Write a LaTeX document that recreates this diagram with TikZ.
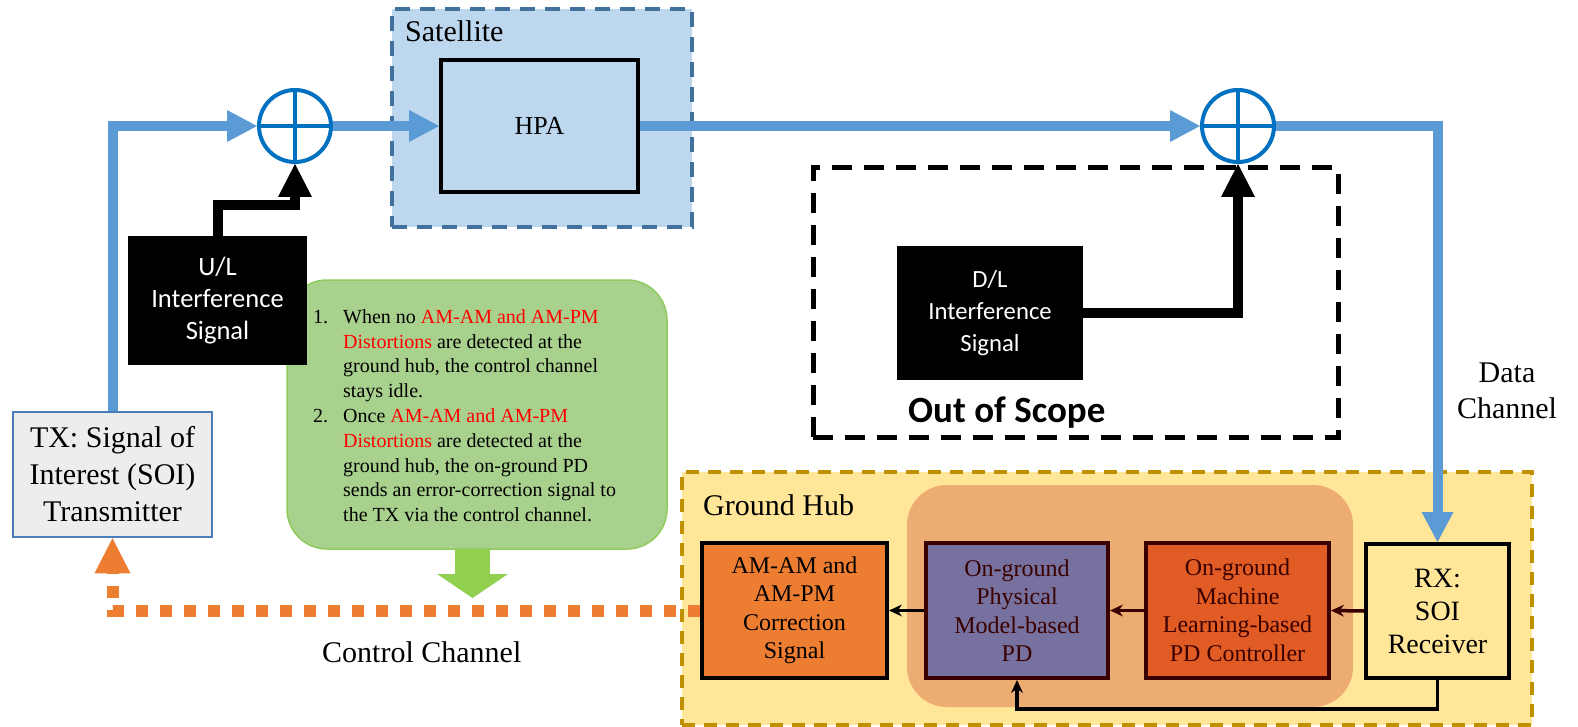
\documentclass[tikz,border=0pt]{standalone}
\usepackage{fontspec}
\setmainfont{Liberation Serif}
\newfontfamily\calib{Carlito}
\usetikzlibrary{arrows.meta,calc}
\newcommand\fsz[2]{\fontsize{#1}{#2}\selectfont}
\definecolor{bluel}{HTML}{5B9BD5}
\definecolor{sumblue}{HTML}{0070C0}
\definecolor{satfill}{HTML}{BDD7EE}
\definecolor{satdraw}{HTML}{41719C}
\definecolor{txfill}{HTML}{EDEDED}
\definecolor{txdraw}{HTML}{4A7EBB}
\definecolor{callfill}{HTML}{A9D18E}
\definecolor{calldraw}{HTML}{8FCB5C}
\definecolor{garrow}{HTML}{92D050}
\definecolor{hubfill}{HTML}{FFE699}
\definecolor{hubdraw}{HTML}{BF9000}
\definecolor{regfill}{HTML}{EDAC72}
\definecolor{amfill}{HTML}{ED7D31}
\definecolor{pdfill}{HTML}{76719F}
\definecolor{mlfill}{HTML}{E15C24}
\definecolor{dbrown}{HTML}{3A0000}
\definecolor{ctrlorange}{HTML}{ED7D31}
\definecolor{redtxt}{HTML}{FF0000}
\begin{document}
\begin{tikzpicture}[x=1pt,y=-1pt,
  blueflow/.style={draw=bluel, line width=10pt, -{Triangle[length=30pt,width=32pt,line width=0pt]}},
  sumnode/.style={circle, draw=sumblue, line width=4pt, minimum size=72pt, inner sep=0pt},
  blackbox/.style={fill=black, text=white, align=center, inner sep=0pt},
  blackflow/.style={draw=black, line width=10pt, -{Triangle[length=33pt,width=34pt,line width=0pt]}},
  hubbox/.style={rectangle, line width=4pt, minimum height=135pt, align=center, inner sep=0pt, font=\fsz{24}{28.5}},
  smallflow/.style={line width=3.5pt, -{Stealth[length=13pt,width=12pt,line width=0pt]}},
  lbl/.style={anchor=base west, inner sep=0pt, font=\fsz{30}{36}}
]
\useasboundingbox (0,0) rectangle (1578,727);

% Satellite
\node[fill=satfill, draw=satdraw, line width=4pt, dash pattern=on 15pt off 10pt,
      minimum width=300pt, minimum height=218pt] (sat) at (542,118) {};
\node[lbl] (satlbl) at (405,42) {Satellite};
\node[draw, line width=4pt, fill=satfill, minimum width=197pt, minimum height=132pt,
      font=\fsz{26}{31}] (hpa) at (539.5,126) {HPA};

% Ground hub
\node[fill=hubfill, draw=hubdraw, line width=4pt, dash pattern=on 13pt off 9pt,
      minimum width=850pt, minimum height=253pt] (hub) at (1107,598.5) {};
\node[lbl] (hublbl) at (703,515) {Ground Hub};
\node[fill=regfill, rounded corners=40pt, minimum width=446pt, minimum height=222pt] (reg) at (1130,596) {};

% Out of scope
\node[draw, line width=5pt, dash pattern=on 20pt off 12pt,
      minimum width=525pt, minimum height=269pt] (oos) at (1075.5,302.5) {};
\node[anchor=base west, inner sep=0pt, font=\calib\bfseries\fsz{37}{44}] (oostxt) at (908,422) {Out of Scope};

% Callout
\node[fill=callfill, draw=calldraw, line width=1.5pt, rounded corners=40pt,
      minimum width=380pt, minimum height=269pt] (note) at (477,414.5) {};
\node[anchor=north west, inner sep=0pt, align=left, font=\fsz{20}{24.8}] (notetxt) at (313,309.3) {%
\makebox[30pt][l]{1.}When no \textcolor{redtxt}{AM-AM and AM-PM}\\
\hspace*{30pt}\textcolor{redtxt}{Distortions} are detected at the\\
\hspace*{30pt}ground hub, the control channel\\
\hspace*{30pt}stays idle.\\
\makebox[30pt][l]{2.}Once \textcolor{redtxt}{AM-AM and AM-PM}\\
\hspace*{30pt}\textcolor{redtxt}{Distortions} are detected at the\\
\hspace*{30pt}ground hub, the on-ground PD\\
\hspace*{30pt}sends an error-correction signal to\\
\hspace*{30pt}the TX via the control channel.};
\coordinate (gtip) at (472.5,598);
\draw[draw=garrow, line width=35pt, -{Triangle[length=24pt,width=71pt,line width=0pt]}, garrow]
  (gtip |- note.south) -- (gtip);

% Summing nodes
\node[sumnode] (sum1) at (295,126) {};
\node[sumnode] (sum2) at (1238,126) {};
\foreach \s in {sum1,sum2}{
  \draw[sumblue, line width=4pt] (\s.north) -- (\s.south) (\s.west) -- (\s.east);
}

% Interference boxes
\node[blackbox, minimum width=179pt, minimum height=129pt, font=\calib\fsz{26.5}{32}] (ul) at (217.5,300.5) {U/L\\Interference\\Signal};
\node[blackbox, minimum width=186pt, minimum height=134pt, font=\calib\fsz{24.7}{32}] (dl) at (990,313) {D/L\\Interference\\Signal};

% TX
\node[draw=txdraw, fill=txfill, line width=2.5pt, minimum width=199pt, minimum height=125pt,
      align=center, inner sep=0pt, font=\fsz{30}{37}] (tx) at (112.5,474.5) {TX: Signal of\\Interest (SOI)\\Transmitter};

% Ground hub boxes
\node[hubbox, draw=black, fill=amfill, minimum width=185pt] (am) at (794.5,610.5) {AM-AM and\\AM-PM\\Correction\\Signal};
\node[hubbox, draw=dbrown, fill=pdfill, text=dbrown, minimum width=182pt] (pd) at (1017,610.5) {On-ground\\Physical\\Model-based\\PD};
\node[hubbox, draw=dbrown, fill=mlfill, text=dbrown, minimum width=183pt] (ml) at (1237.5,610.5) {On-ground\\Machine\\Learning-based\\PD Controller};
\node[draw=black, fill=hubfill, line width=4pt, minimum width=143pt, minimum height=134pt,
      align=center, inner sep=0pt, font=\fsz{28}{33}] (rx) at (1437.5,611) {RX:\\SOI\\Receiver};

% Data path
\draw[blueflow] (tx.north) |- (sum1.west);
\draw[blueflow] (sum1.east) -- (hpa.west);
\draw[blueflow] (hpa.east) -- (sum2.west);
\draw[blueflow] (sum2.east) -| (rx.north);

% Interference arrows
\draw[blackflow] (ul.north) -- ++(0,-31) -| (sum1.south);
\draw[blackflow] (dl.east) -| (sum2.south);

% Ground hub internal arrows
\draw[smallflow, dbrown] (rx.west) -- (ml.east);
\draw[smallflow, dbrown] (ml.west) -- (pd.east);
\draw[smallflow, black] (pd.west) -- (am.east);
\draw[smallflow, black] (rx.south) -- ++(0,29) -| (pd.south);

% Control channel
\draw[draw=ctrlorange, line width=12pt, dash pattern=on 12pt off 12pt,
      -{Triangle[length=35pt,width=36pt,line width=0pt]}, ctrlorange] (am.west) -| (tx.south);
\node[lbl] (ctrl) at (322,662) {Control Channel};
\node[anchor=north, align=center, inner sep=0pt, font=\fsz{30}{36}] (data) at (1507,362.5) {Data\\Channel};
\end{tikzpicture}
\end{document}
